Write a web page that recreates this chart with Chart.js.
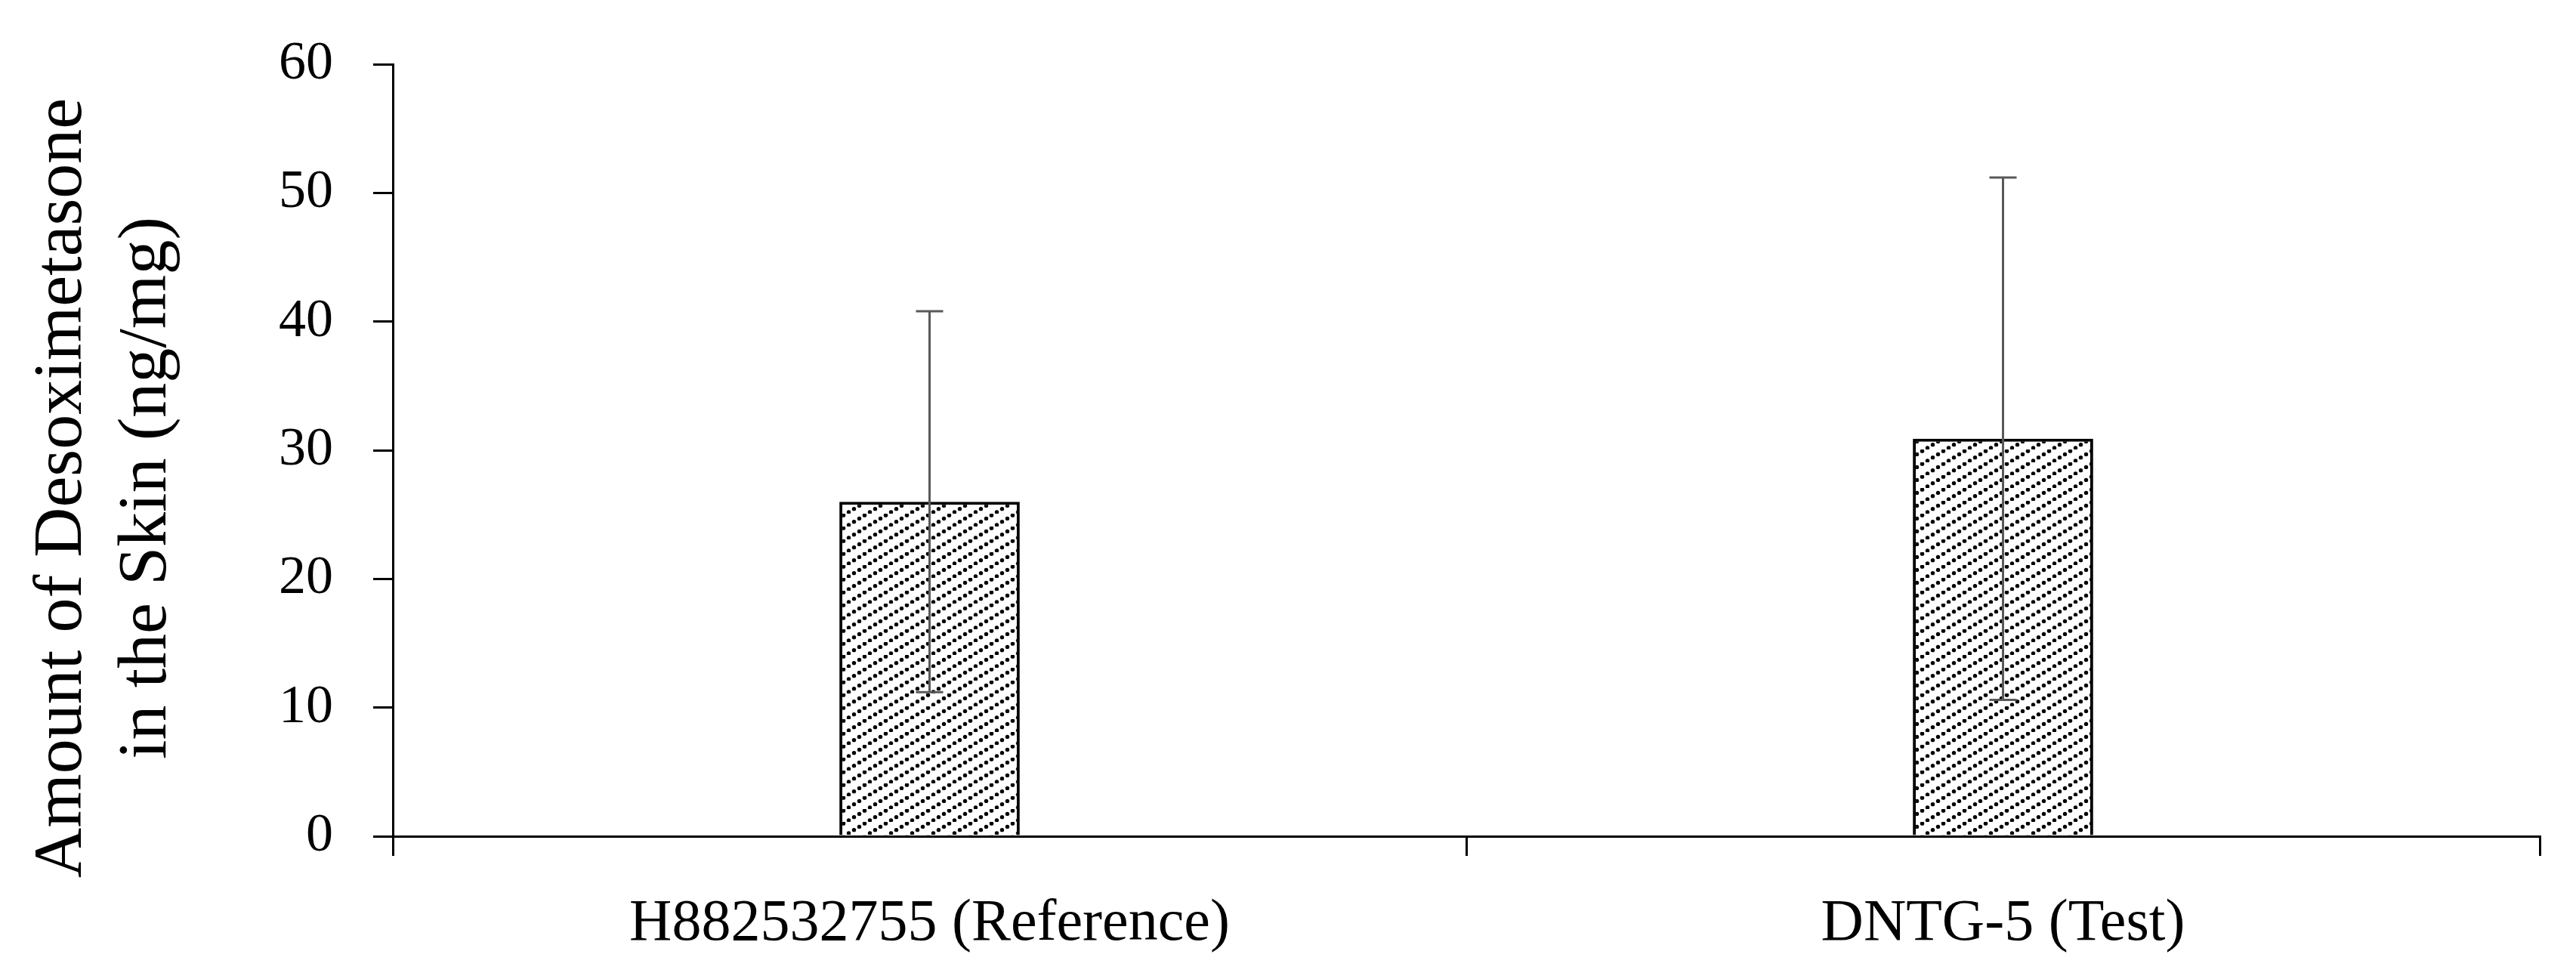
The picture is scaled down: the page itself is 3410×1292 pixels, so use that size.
<!DOCTYPE html>
<html lang="en">
  <head>
    <meta charset="UTF-8" />
    <title>Desoximetasone in the Skin</title>
    <script src="https://cdn.jsdelivr.net/npm/chart.js"></script>
    <style>
      html,
      body {
        margin: 0;
        padding: 0;
        background: #fff;
      }
      #wrap {
        width: 3410px;
        height: 1292px;
      }
    </style>
  </head>
  <body>
    <div id="wrap"><canvas id="chart"></canvas></div>
  </body>
  <script>
    const categories = ["H882532755 (Reference)", "DNTG-5 (Test)"];
    const means = [26.0, 30.9];
    const errors = [14.8, 20.3];
    const yTicks = [0, 10, 20, 30, 40, 50, 60];
    const yTitle = ["Amount of Desoximetasone", "in the Skin (ng/mg)"];

    const serif = '"Liberation Serif", "Times New Roman", serif';

    // dotted upward-diagonal hatch like the original fill
    const makeHatch = () => {
      const tile = document.createElement("canvas");
      tile.width = 28;
      tile.height = 17;
      const c = tile.getContext("2d");
      c.fillStyle = "#fff";
      c.fillRect(0, 0, 28, 17);
      c.fillStyle = "#000";
      for (let k = -1; k <= 4; k++) {
        const x = 3.5 + k * 7;
        const y = 17 - x * (17 / 28);
        c.beginPath();
        c.arc(x, y, 2.7, 0, Math.PI * 2);
        c.fill();
      }
      return c.createPattern(tile, "repeat");
    };

    const errorBars = {
      id: "errorBars",
      afterDatasetsDraw(chart) {
        const ctx = chart.ctx;
        const y = chart.scales.y;
        const meta = chart.getDatasetMeta(0);
        ctx.save();
        ctx.strokeStyle = "#595959";
        ctx.lineWidth = 3;
        meta.data.forEach((bar, i) => {
          const top = y.getPixelForValue(means[i] + errors[i]);
          const bot = y.getPixelForValue(means[i] - errors[i]);
          ctx.beginPath();
          ctx.moveTo(bar.x, top);
          ctx.lineTo(bar.x, bot);
          ctx.moveTo(bar.x - 18, top);
          ctx.lineTo(bar.x + 18, top);
          ctx.moveTo(bar.x - 18, bot);
          ctx.lineTo(bar.x + 18, bot);
          ctx.stroke();
        });
        ctx.restore();
      },
    };

    const yAxisTitle = {
      id: "yAxisTitle",
      afterDraw(chart) {
        const ctx = chart.ctx;
        const cy = chart.height / 2;
        ctx.save();
        ctx.fillStyle = "#000";
        ctx.font = "92px " + serif;
        ctx.textAlign = "center";
        ctx.textBaseline = "alphabetic";
        [107, 219].forEach((x, i) => {
          ctx.save();
          ctx.translate(x, cy);
          ctx.rotate(-Math.PI / 2);
          ctx.fillText(yTitle[i], 0, 0);
          ctx.restore();
        });
        ctx.restore();
      },
    };

    new Chart(document.getElementById("chart"), {
      type: "bar",
      data: {
        labels: categories,
        datasets: [
          {
            data: means,
            backgroundColor: makeHatch(),
            borderColor: "#000",
            borderWidth: 4,
            categoryPercentage: 1,
            barPercentage: 0.168,
          },
        ],
      },
      options: {
        responsive: true,
        maintainAspectRatio: false,
        animation: false,
        events: [],
        layout: { padding: { top: 85, right: 48, left: 0, bottom: 0 } },
        plugins: {
          legend: { display: false },
          tooltip: { enabled: false },
        },
        scales: {
          x: {
            grid: {
              drawOnChartArea: false,
              color: "#000",
              lineWidth: 3,
              tickLength: 26,
            },
            border: { color: "#000", width: 3 },
            ticks: {
              color: "#000",
              font: { family: serif, size: 78 },
              padding: 44,
              maxRotation: 0,
            },
            afterFit: (scale) => {
              scale.height = 185;
            },
          },
          y: {
            min: 0,
            max: 60,
            afterBuildTicks: (scale) => {
              scale.ticks = yTicks.map((v) => ({ value: v }));
            },
            grid: {
              drawOnChartArea: false,
              color: "#000",
              lineWidth: 3,
              tickLength: 26,
            },
            border: { color: "#000", width: 3 },
            ticks: {
              color: "#000",
              font: { family: serif, size: 72 },
              padding: 53,
            },
            afterFit: (scale) => {
              scale.width = 520;
              scale.paddingTop = 0;
              scale.paddingBottom = 0;
            },
          },
        },
      },
      plugins: [errorBars, yAxisTitle],
    });
  </script>
</html>
